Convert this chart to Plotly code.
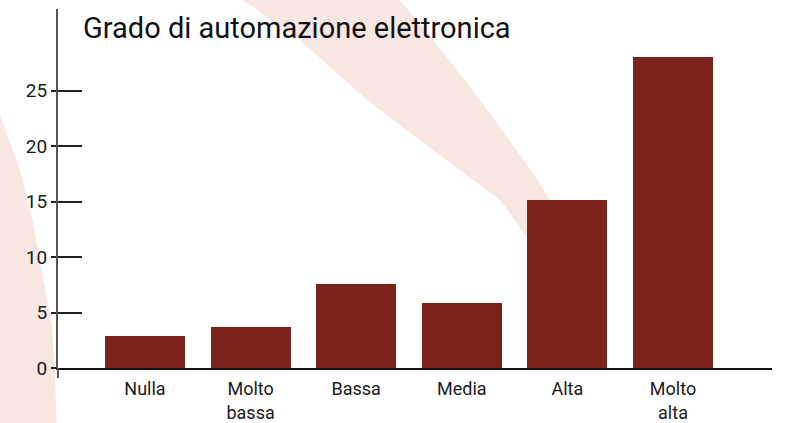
import plotly.graph_objects as go

# Data
categories = ["Nulla", "Molto<br>bassa", "Bassa", "Media", "Alta", "Molto<br>alta"]
values = [2.9, 3.7, 7.6, 5.9, 15.1, 28.0]
y_ticks = [0, 5, 10, 15, 20, 25]

BAR_COLOR = "#7B231B"
SWOOSH = "#F7E6E2"
FONT = "Roboto, Liberation Sans Narrow, sans-serif"

W, H = 788, 423
ML, MR, MT, MB = 58, 16, 9, 55
PW, PH = W - ML - MR, H - MT - MB


def px(x, y):
    """Page pixel -> paper coordinates."""
    return (x - ML) / PW, (H - MB - y) / PH


def path(points):
    pts = [px(x, y) for x, y in points]
    return "M " + " L ".join(f"{a:.4f},{b:.4f}" for a, b in pts) + " Z"


# Decorative pale swooshes in the background
band = [(238, -5), (243, 0), (300, 40), (367, 100), (433, 150), (500, 200),
        (545, 262), (556, 262), (550, 200), (533, 173), (500, 127),
        (467, 83), (433, 40), (400, 0), (397, -5)]
left_arc = [(-5, 100), (0, 115), (20, 170), (33, 223), (43, 277),
            (52, 327), (55, 377), (57, 430), (-5, 430)]

fig = go.Figure()
fig.add_trace(go.Bar(
    x=list(range(len(categories))), y=values,
    width=0.758, marker=dict(color=BAR_COLOR, line=dict(width=0)),
    hoverinfo="skip",
))
# overlay axis only carries the long inner ticks
fig.add_trace(go.Scatter(x=[None], y=[None], yaxis="y2", showlegend=False))

y_range = [0, PH / 11.1]

shapes = [
    dict(type="path", path=path(band), xref="paper", yref="paper",
         fillcolor=SWOOSH, line=dict(width=0), layer="below"),
    dict(type="path", path=path(left_arc), xref="paper", yref="paper",
         fillcolor=SWOOSH, line=dict(width=0), layer="below"),
    # short extension of the vertical axis below the baseline
    dict(type="line", xref="paper", yref="paper",
         x0=0, x1=0, y0=px(0, 368)[1], y1=px(0, 378)[1],
         line=dict(color="#555555", width=2)),
]

fig.update_layout(
    width=W, height=H,
    margin=dict(l=ML, r=MR, t=MT, b=MB, autoexpand=False),
    paper_bgcolor="white", plot_bgcolor="rgba(0,0,0,0)",
    showlegend=False,
    bargap=0,
    font=dict(family=FONT, color="#1a1a1a"),
    shapes=shapes,
    annotations=[dict(
        text="Grado di automazione elettronica",
        xref="paper", yref="paper", x=px(81, 0)[0], y=px(0, 47)[1],
        xanchor="left", yanchor="bottom", showarrow=False,
        font=dict(family=FONT, size=29, color="#111111"),
    )],
    xaxis=dict(
        range=[-0.824, 5.9375], automargin=False,
        tickmode="array", tickvals=list(range(len(categories))), ticktext=categories,
        ticks="", showgrid=False, zeroline=False, ticklabelstandoff=4,
        showline=True, linecolor="#111111", linewidth=1.5,
        tickfont=dict(family=FONT, size=18, color="#1a1a1a"),
    ),
    yaxis=dict(
        range=y_range, automargin=False, tickmode="array", tickvals=y_ticks,
        ticks="outside", ticklen=5, tickwidth=1.5, tickcolor="#222222",
        showgrid=False, zeroline=False,
        showline=True, linecolor="#555555", linewidth=2,
        tickfont=dict(family=FONT, size=19, color="#1a1a1a"),
    ),
    yaxis2=dict(
        overlaying="y", side="left", range=y_range,
        tickmode="array", tickvals=y_ticks, showticklabels=False,
        ticks="inside", ticklen=24, tickwidth=1.5, tickcolor="#222222",
        showgrid=False, zeroline=False, showline=False,
    ),
)

fig.write_html("out.html")
